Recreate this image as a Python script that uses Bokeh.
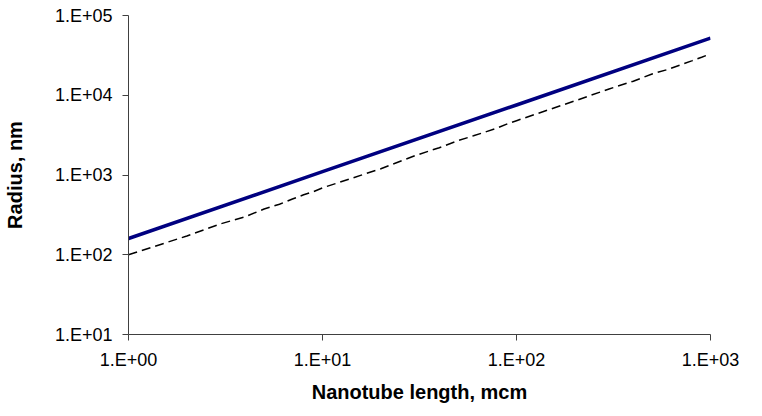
from bokeh.plotting import figure
from bokeh.models import FixedTicker
from bokeh.embed import file_html
from bokeh.resources import INLINE

# Data
length_solid = [1, 10, 100, 1000]
radius_solid = [160, 1100, 7550, 52000]

length_dashed = [1, 2, 3, 4, 5, 6, 7, 8, 9, 10,
                 20, 30, 40, 50, 60, 70, 80, 90, 100,
                 200, 300, 400, 500, 600, 700, 800, 900, 1000]
radius_dashed = [100, 172, 245, 300, 375, 430, 500, 565, 620, 690,
                 1200, 1750, 2200, 2700, 3100, 3500, 3900, 4400, 4800,
                 8500, 12000, 15000, 18500, 21000, 24000, 27000, 30000, 33000]

x_ticks = [1, 10, 100, 1000]
x_tick_labels = ["1.E+00", "1.E+01", "1.E+02", "1.E+03"]
y_ticks = [10, 100, 1000, 10000, 100000]
y_tick_labels = ["1.E+01", "1.E+02", "1.E+03", "1.E+04", "1.E+05"]

p = figure(width=762, height=416, x_axis_type="log", y_axis_type="log",
           x_range=(1, 1000), y_range=(10, 100000),
           output_backend="svg", toolbar_location=None,
           min_border_left=128, min_border_right=52,
           min_border_top=15, min_border_bottom=82)
p.outline_line_color = None
p.xgrid.visible = False
p.ygrid.visible = False

p.line(length_solid, radius_solid, line_color="#000080", line_width=3.5)
p.line(length_dashed, radius_dashed, line_color="black", line_width=1.5,
       line_dash="9 5")

for ax, ticks, labels in ((p.xaxis[0], x_ticks, x_tick_labels),
                          (p.yaxis[0], y_ticks, y_tick_labels)):
    ax.ticker = FixedTicker(ticks=ticks, minor_ticks=[])
    ax.major_label_overrides = {t: l for t, l in zip(ticks, labels)}
    ax.major_tick_in = 0
    ax.major_tick_out = 6
    ax.minor_tick_in = 0
    ax.minor_tick_out = 0
    ax.axis_line_color = "#404040"
    ax.major_tick_line_color = "#404040"
    ax.major_label_text_font = "Liberation Sans"
    ax.major_label_text_font_size = "18px"
    ax.major_label_text_color = "black"
    ax.axis_label_text_font = "Liberation Sans"
    ax.axis_label_text_font_size = "20px"
    ax.axis_label_text_font_style = "bold"
    ax.axis_label_text_color = "black"

p.xaxis.axis_label = "Nanotube length, mcm"
p.yaxis.axis_label = "Radius, nm"
p.xaxis.major_label_standoff = 9
p.yaxis.major_label_standoff = 10
p.xaxis.axis_label_standoff = 8
p.yaxis.axis_label_standoff = 26

open("out.html", "w").write(file_html(p, INLINE))
